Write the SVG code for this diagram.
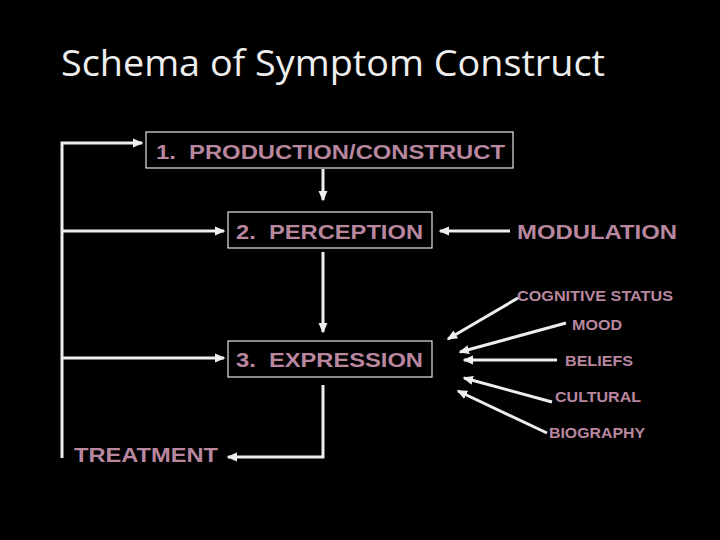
<svg xmlns="http://www.w3.org/2000/svg" width="720" height="540" viewBox="0 0 720 540">
<style>
.t{font-family:"Liberation Sans",Arial,sans-serif;fill:#b8879f;font-weight:bold;white-space:pre}
.s{font-weight:normal}
.b{fill:none;stroke:#e6e6e6;stroke-width:1.2}
.c{fill:none;stroke:#eeeeee;stroke-width:3}
</style>
<defs><marker id="a" markerWidth="4" markerHeight="4" refX="3" refY="2" orient="auto" markerUnits="strokeWidth"><path d="M0,0.5L3.5,2L0,3.5z" fill="#eeeeee"/></marker></defs>
<rect width="720" height="540" fill="#000"/>
<text x="61" y="76" font-family="Open Sans,'Liberation Sans',sans-serif" font-size="37" fill="#eeeeee" textLength="544" lengthAdjust="spacingAndGlyphs">Schema of Symptom Construct</text>
<g id="n1"><rect class="b" x="146" y="132" width="367" height="36"/><text class="t" x="156" y="159" font-size="20" textLength="349" lengthAdjust="spacingAndGlyphs" xml:space="preserve">1.  PRODUCTION/CONSTRUCT</text></g>
<g id="n2"><rect class="b" x="228" y="212" width="204" height="36"/><text class="t" x="236" y="239" font-size="20" textLength="187" lengthAdjust="spacingAndGlyphs" xml:space="preserve">2.  PERCEPTION</text></g>
<g id="n3"><rect class="b" x="228" y="341" width="204" height="36"/><text class="t" x="236" y="367" font-size="20" textLength="187" lengthAdjust="spacingAndGlyphs" xml:space="preserve">3.  EXPRESSION</text></g>
<g id="n4"><text class="t" x="74" y="462" font-size="20" textLength="144" lengthAdjust="spacingAndGlyphs">TREATMENT</text></g>
<g id="n5"><text class="t" x="517" y="239" font-size="20" textLength="160" lengthAdjust="spacingAndGlyphs">MODULATION</text></g>
<g id="n6"><text class="t" x="517" y="301" font-size="15" textLength="156" lengthAdjust="spacingAndGlyphs">COGNITIVE STATUS</text></g>
<g id="n7"><text class="t" x="572" y="330" font-size="15" textLength="50" lengthAdjust="spacingAndGlyphs">MOOD</text></g>
<g id="n8"><text class="t" x="565" y="366" font-size="15" textLength="68" lengthAdjust="spacingAndGlyphs">BELIEFS</text></g>
<g id="n9"><text class="t" x="555" y="402" font-size="15" textLength="86" lengthAdjust="spacingAndGlyphs">CULTURAL</text></g>
<g id="n10"><text class="t" x="549" y="438" font-size="15" textLength="96" lengthAdjust="spacingAndGlyphs">BIOGRAPHY</text></g>
<g id="connectors">
<path class="c" d="M62,458 V143 H142" marker-end="url(#a)"/>
<path class="c" d="M62,231 H224" marker-end="url(#a)"/>
<path class="c" d="M62,358 H224" marker-end="url(#a)"/>
<path class="c" d="M323,169 V200" marker-end="url(#a)"/>
<path class="c" d="M323,252 V332" marker-end="url(#a)"/>
<path class="c" d="M323,385 V457 H228" marker-end="url(#a)"/>
<path class="c" d="M510,231 H440" marker-end="url(#a)"/>
<path class="c" d="M518,298 L448,339" marker-end="url(#a)"/>
<path class="c" d="M566,323 L460,352" marker-end="url(#a)"/>
<path class="c" d="M557,360 H464" marker-end="url(#a)"/>
<path class="c" d="M552,402 L464,378" marker-end="url(#a)"/>
<path class="c" d="M547,433 L458,391" marker-end="url(#a)"/>
</g>
</svg>
